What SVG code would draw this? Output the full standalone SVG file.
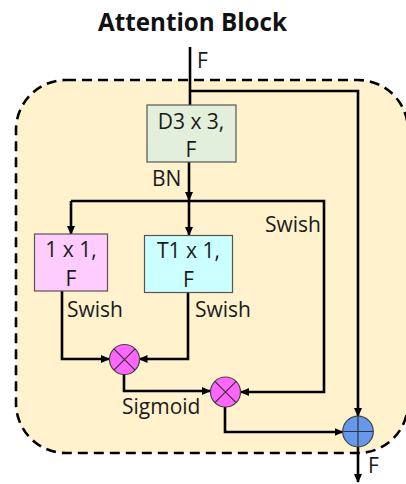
<svg xmlns="http://www.w3.org/2000/svg" width="406" height="484" viewBox="0 0 406 484">
<defs>
<marker id="ah" viewBox="0 0 9 8" markerWidth="9" markerHeight="8" refX="8" refY="4" orient="auto" markerUnits="userSpaceOnUse">
<path d="M0,0 L9,4 L0,8 z" fill="#000"/>
</marker>
<style>
.lbl{font-family:"Open Sans","Liberation Sans",sans-serif;font-size:21px;fill:#1a1a1a}
.ctr{text-anchor:middle}
.box{stroke:#555;stroke-width:1.2}
.con{fill:none;stroke:#000;stroke-width:2.6}
.arr{marker-end:url(#ah)}
.op{stroke:#444;stroke-width:1.2}
.opl{stroke:#333;stroke-width:1.2}
</style>
</defs>
<rect width="406" height="484" fill="#fff"/>
<text x="192.5" y="31" text-anchor="middle" textLength="189" lengthAdjust="spacingAndGlyphs" style="font-family:'Open Sans','Liberation Sans',sans-serif;font-weight:bold;font-size:25px" fill="#111">Attention Block</text>
<g id="block">
<rect x="16" y="80" width="392" height="373" rx="50" ry="50" fill="#FFF2CC" stroke="#000" stroke-width="2.6" stroke-dasharray="10,6"/>
</g>
<g id="connectors">
<path class="con" d="M190,47 V105"/>
<path class="con arr" d="M190,91 H358 V416"/>
<path class="con arr" d="M189,162 V200"/>
<path class="con" d="M71,201 H324 V392 H241" marker-end="url(#ah)"/>
<path class="con arr" d="M71,201 V234"/>
<path class="con arr" d="M189,201 V235"/>
<path class="con arr" d="M62,291 V359 H109"/>
<path class="con arr" d="M188,293 V359 H139.5"/>
<path class="con arr" d="M124,374 V391 H210"/>
<path class="con arr" d="M225,407 V432 H342.5"/>
<path class="con arr" d="M358,447 V482"/>
</g>
<g id="labels">
<text class="lbl" x="197" y="68">F</text>
<text class="lbl" x="152" y="186">BN</text>
<text class="lbl" x="265" y="232">Swish</text>
<text class="lbl" x="67" y="317">Swish</text>
<text class="lbl" x="195" y="317">Swish</text>
<text class="lbl" x="122" y="414">Sigmoid</text>
<text class="lbl" x="368" y="473">F</text>
</g>
<g id="d3">
<rect class="box" x="147" y="105" width="89" height="57" fill="#E2EFDA"/>
<text class="lbl ctr" x="191" y="129">D3 x 3,</text>
<text class="lbl ctr" x="191" y="157">F</text>
</g>
<g id="c1x1">
<rect class="box" x="34.5" y="234" width="73" height="57" fill="#FFCCFF"/>
<text class="lbl ctr" x="71" y="257">1 x 1,</text>
<text class="lbl ctr" x="71" y="286">F</text>
</g>
<g id="t1x1">
<rect class="box" x="144.5" y="235.5" width="88" height="57" fill="#CCFFFF"/>
<text class="lbl ctr" x="188.5" y="258">T1 x 1,</text>
<text class="lbl ctr" x="188.5" y="287">F</text>
</g>
<g id="mul1">
<circle class="op" cx="124.5" cy="359.5" r="15" fill="#FF66FF"/>
<path class="opl" d="M113.9,348.9 L135.1,370.1 M135.1,348.9 L113.9,370.1"/>
</g>
<g id="mul2">
<circle class="op" cx="225.5" cy="392" r="15" fill="#FF66FF"/>
<path class="opl" d="M214.9,381.4 L236.1,402.6 M236.1,381.4 L214.9,402.6"/>
</g>
<g id="add">
<circle class="op" cx="358" cy="431.5" r="15.3" fill="#6699EE"/>
<path class="opl" d="M342.7,431.5 H373.3 M358,416.2 V446.8"/>
</g>
</svg>
